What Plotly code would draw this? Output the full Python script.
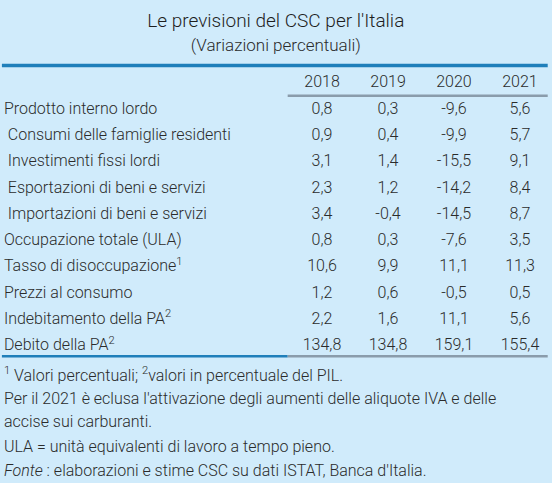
import plotly.graph_objects as go

# ---- data ----
title = "Le previsioni del CSC per l'Italia"
subtitle = "(Variazioni percentuali)"
years = ["2018", "2019", "2020", "2021"]
labels = [
    "Prodotto interno lordo",
    "\u00a0Consumi delle famiglie residenti",
    "\u00a0Investimenti fissi lordi",
    "\u00a0Esportazioni di beni e servizi",
    "\u00a0Importazioni di beni e servizi",
    "Occupazione totale (ULA)",
    "Tasso di disoccupazione<sup>1</sup>",
    "Prezzi al consumo",
    "Indebitamento della PA<sup>2</sup>",
    "Debito della PA<sup>2</sup>",
]
v2018 = [0.8, 0.9, 3.1, 2.3, 3.4, 0.8, 10.6, 1.2, 2.2, 134.8]
v2019 = [0.3, 0.4, 1.4, 1.2, -0.4, 0.3, 9.9, 0.6, 1.6, 134.8]
v2020 = [-9.6, -9.9, -15.5, -14.2, -14.5, -7.6, 11.1, -0.5, 11.1, 159.1]
v2021 = [5.6, 5.7, 9.1, 8.4, 8.7, 3.5, 11.3, 0.5, 5.6, 155.4]
footnotes = [
    "<sup>1</sup> Valori percentuali; <sup>2</sup>valori in percentuale del PIL.",
    "Per il 2021 è eclusa l'attivazione degli aumenti delle aliquote IVA e delle",
    "accise sui carburanti.",
    "ULA = unità equivalenti di lavoro a tempo pieno.",
    "<i>Fonte</i> : elaborazioni e stime CSC su dati ISTAT, Banca d'Italia.",
]

# ---- styling ----
BG = "#d0ebfb"
TXT = "#2b2b2b"
BLUE = "#1f7fba"
GRAY = "#8a9cab"
FONT = dict(family="Roboto", size=16, color=TXT, weight=300)

def fmt(v):
    return f"{v:.1f}".replace(".", ",")

values = [v2018, v2019, v2020, v2021]
n = len(labels)
rows = list(range(1, n + 1))

fig = go.Figure()

LABEL_X = -3.82
fig.add_trace(go.Scatter(
    x=[LABEL_X] * n, y=rows, mode="text", text=labels,
    textposition="middle right", textfont=FONT, hoverinfo="skip",
))
for i, (yr, vals) in enumerate(zip(years, values), start=1):
    fig.add_trace(go.Scatter(
        x=[i] * (n + 1), y=[0] + rows, mode="text",
        text=[yr] + [fmt(v) for v in vals],
        textposition="middle center",
        textfont=FONT, hoverinfo="skip",
    ))

foot_rows = [11.15, 12.06, 12.92, 13.88, 14.79]
fig.add_trace(go.Scatter(
    x=[LABEL_X] * len(footnotes), y=foot_rows, mode="text", text=footnotes,
    textposition="middle right", textfont=FONT, hoverinfo="skip",
))

fig.add_trace(go.Scatter(
    x=[0.3], y=[-2.33], mode="text", text=[title],
    textposition="middle center",
    textfont=dict(family="Roboto", size=19, color="#1e1e1e", weight=300),
    hoverinfo="skip",
))
fig.add_trace(go.Scatter(
    x=[0.3], y=[-1.38], mode="text", text=[subtitle],
    textposition="middle center",
    textfont=dict(family="Roboto", size=17, color=TXT, weight=300),
    hoverinfo="skip",
))

SHIFT = 0.09
X0, X1 = -3.879, 4.485
XL = -3.85
XR = 4.42
XS = 0.48
shapes = [
    dict(type="line", x0=XL, x1=XR, y0=-0.68, y1=-0.68, line=dict(color=BLUE, width=3.5)),
    dict(type="line", x0=XS, x1=XR, y0=0.47, y1=0.47, line=dict(color=GRAY, width=2.5)),
    dict(type="line", x0=XL, x1=XS, y0=10.38, y1=10.38, line=dict(color=BLUE, width=2.5)),
    dict(type="line", x0=XS, x1=XR, y0=10.38, y1=10.38, line=dict(color=GRAY, width=2.5)),
]

fig.update_layout(
    width=552, height=483, margin=dict(l=0, r=0, t=0, b=0),
    paper_bgcolor=BG, plot_bgcolor=BG, showlegend=False,
    shapes=shapes,
    xaxis=dict(range=[X0, X1], visible=False, fixedrange=True),
    yaxis=dict(range=[15.29 - SHIFT, -3.08 - SHIFT], visible=False, fixedrange=True),
)

fig.write_html(
    "out.html",
    config={"displayModeBar": False},
    post_script="document.body.style.margin='0';document.body.style.background='" + BG + "';",
)
